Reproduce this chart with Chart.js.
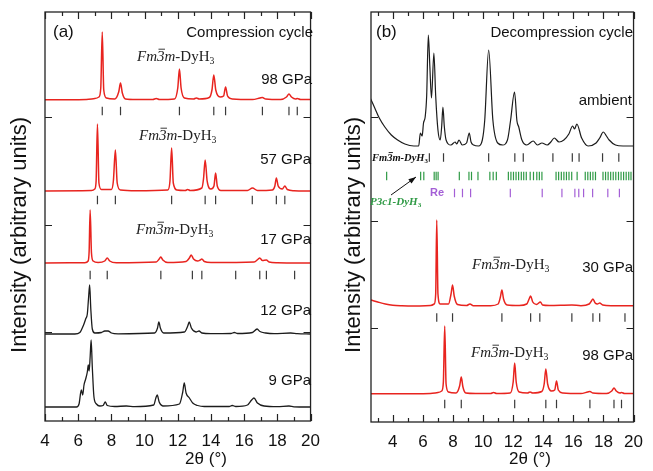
<!DOCTYPE html>
<html>
<head>
<meta charset="utf-8">
<script src="https://cdn.jsdelivr.net/npm/chart.js@4.4.1/dist/chart.umd.min.js"></script>
<style>
  html, body { margin: 0; padding: 0; background: #fff; }
  #wrap { position: relative; width: 653px; height: 471px; }
  #ca { position: absolute; left: 0; top: 0; }
  #cb { position: absolute; left: 330px; top: 0; }
</style>
</head>
<body>
<div id="wrap">
  <canvas id="ca" width="330" height="471"></canvas>
  <canvas id="cb" width="323" height="471"></canvas>
</div>
<script>
// ---- data: [2theta, intensity above the pattern's own baseline] ----
var p98 = [[2.55,0.3],[4,0.3],[6.5,0.6],[7.0,1.5],[7.25,3],[7.36,12],[7.45,68],[7.54,10],[7.7,2],[8.2,1],[8.44,8],[8.55,17],[8.66,7],[8.85,1],[9.5,0.5],[10.5,0.5],[10.7,1.5],[10.9,0.5],[11.8,1],[12.0,12],[12.1,31],[12.2,12],[12.4,2],[12.95,1],[13.12,2],[13.3,1],[13.9,2.5],[14.06,10],[14.17,25],[14.29,10],[14.55,3],[14.76,4],[14.88,13],[15.0,4],[15.3,1],[16.5,0.5],[16.95,2],[17.1,2.5],[17.3,1],[18.2,0.5],[18.55,3],[18.7,6],[18.85,3],[19.1,1],[19.2,1.5],[19.4,0.5],[20,0.5]];
var p57 = [[4,0],[6.8,0.5],[7.0,2],[7.08,10],[7.16,67],[7.25,8],[7.4,1.5],[8.0,1.5],[8.12,10],[8.24,41],[8.35,8],[8.55,1],[9.5,0.3],[11.4,1],[11.53,10],[11.63,43],[11.73,8],[11.95,1],[12.45,0.5],[12.6,1.5],[12.75,0.5],[13.45,3],[13.55,12],[13.65,31],[13.77,10],[14.0,2],[14.18,5],[14.28,18],[14.38,5],[14.6,0.5],[16.2,0.5],[16.5,3],[16.8,0.5],[17.7,1],[17.85,5],[17.94,13],[18.05,5],[18.3,2],[18.45,5],[18.6,1.5],[19,0.3],[20,0]];
var p17 = [[4,0],[6.4,0.3],[6.6,2],[6.66,12],[6.72,53],[6.8,10],[6.9,2],[7.2,0.5],[7.6,2],[7.75,5],[7.9,2],[8.3,0.3],[10.7,1],[10.88,4],[10.98,6],[11.1,3],[11.4,0.5],[12.5,1.5],[12.7,5],[12.81,8],[12.95,4],[13.2,2],[13.35,3],[13.45,4],[13.6,1.5],[14,0.5],[16.6,1],[16.85,4],[16.94,5],[17.1,2.5],[17.34,3],[17.5,1],[18,0.3],[20,0]];
var p12 = [[4,0],[5.8,0],[6.1,1.5],[6.3,8],[6.45,15],[6.55,20],[6.62,35],[6.69,49],[6.76,25],[6.85,5],[7.0,1],[7.4,1.5],[7.6,3],[7.8,3],[8.0,1],[8.4,0.2],[10.6,1],[10.78,6],[10.86,12],[10.95,6],[11.15,1],[12.4,2],[12.6,8],[12.69,12],[12.82,6],[13.1,2],[13.28,3],[13.45,1],[14,0.3],[15.2,0.5],[15.41,1.5],[15.6,0.5],[16.5,1.5],[16.78,5],[16.95,2.5],[17.3,1],[17.8,0.3],[18.8,1],[19.2,0.3],[20,0]];
var p9 = [[4,0],[5.9,0],[6.05,3],[6.19,17],[6.27,12],[6.35,22],[6.45,28],[6.55,35],[6.61,42],[6.66,36],[6.72,50],[6.78,67],[6.85,40],[6.95,10],[7.1,3],[7.3,1],[7.5,1.5],[7.63,5],[7.75,1.5],[8.2,0.5],[8.9,1],[9.4,0.3],[10.55,2],[10.68,9],[10.76,12],[10.88,5],[11.1,1],[12.1,3],[12.3,15],[12.39,24],[12.5,14],[12.7,9],[12.9,4],[13.2,1.5],[13.6,0.5],[15.1,0.5],[15.28,1.5],[15.5,0.5],[16.2,2],[16.45,7],[16.59,9],[16.8,4],[17.2,1],[18,0.3],[18.7,1],[19,0.2],[20,0]];
var pAmbient = [[2.5,48],[2.8,38],[3.1,28],[3.47,19],[3.9,11],[4.32,6],[4.8,2],[5.4,0],[5.72,0],[5.83,13],[5.95,10],[6.04,23],[6.15,29],[6.25,50],[6.36,111],[6.46,80],[6.57,48],[6.73,93],[6.85,50],[7.0,16],[7.15,6],[7.25,20],[7.33,39],[7.42,20],[7.54,6],[7.86,1],[8.14,4],[8.25,2],[8.4,6],[8.61,1],[8.9,3],[9.08,13],[9.2,4],[9.37,1],[9.69,0],[9.95,6],[10.11,26],[10.37,96],[10.65,26],[10.97,3],[11.3,1],[11.62,6],[11.83,26],[12.09,54],[12.25,25],[12.37,19],[12.58,6],[12.9,1],[13.33,5],[13.61,1],[13.91,3],[14.26,1],[14.5,4],[14.73,8],[15.05,4],[15.37,6],[15.7,12],[15.95,20],[16.08,17],[16.23,22],[16.55,8],[16.98,0],[17.51,3],[17.75,8],[17.99,14],[18.2,10],[18.38,6],[18.8,1],[19.3,0],[20,0]];
var p30 = [[2.55,6],[3.0,4],[3.5,2],[4.0,0.7],[4.6,0.2],[5.5,0],[6.5,0.5],[6.75,2],[6.85,12],[6.92,86],[7.0,12],[7.15,2],[7.7,2],[7.87,12],[7.97,21],[8.08,10],[8.3,1.5],[8.9,0.5],[9.13,2],[9.35,0.3],[10.5,0.3],[11.0,2],[11.15,9],[11.25,16],[11.36,7],[11.6,1],[12.4,0.5],[12.9,2],[13.06,7],[13.16,10],[13.3,4],[13.55,1.5],[13.81,4],[13.95,1],[14.4,0.5],[15.9,1],[16.5,0.3],[17.05,2],[17.2,5],[17.3,7],[17.45,3],[17.6,2],[17.75,3],[17.95,1],[18.5,0.3],[20,0.3]];

// reflection positions (2theta)
var refl98 = [7.45, 8.55, 12.1, 14.17, 14.88, 17.1, 18.7, 19.2];
var refl57 = [7.16, 8.24, 11.63, 13.65, 14.28, 16.49, 17.94, 18.45];
var refl17 = [6.72, 7.75, 10.98, 12.88, 13.45, 15.49, 16.94, 17.34, 19.04];
var refl30 = [6.92, 7.97, 11.25, 13.16, 13.77, 15.9, 17.3, 17.75, 19.43];
var reflAmbFm = [6.43, 7.37, 10.37, 12.11, 12.67, 14.64, 15.93, 16.38, 17.94, 19.02];
var reflP3c1 = [3.59, 5.85, 6.06, 6.75, 6.88, 7.01, 8.42, 9.06, 9.23, 9.66, 10.45, 10.67, 10.88, 11.68, 11.85, 12.02, 12.19, 12.36, 12.54, 12.7, 12.87, 13.13, 13.35, 13.57, 13.74, 13.91, 14.85, 15.02, 15.2, 15.37, 15.54, 15.71, 15.89, 16.25, 16.79, 16.96, 17.13, 17.3, 17.47, 17.97, 18.14, 18.31, 18.48, 18.65, 18.82, 19.0, 19.17, 19.34, 19.51, 19.68, 19.83];
var reflRe = [8.1, 8.63, 9.17, 11.81, 13.93, 15.24, 16.1, 16.36, 16.68, 17.28, 18.29, 19.06];

var xTickLabels = [4, 6, 8, 10, 12, 14, 16, 18, 20];

// ---- layout (offsets in the arbitrary intensity units) ----
var offA = { p98: 321, p57: 230, p17: 158, p12: 87, p9: 14, r98: 310, r57: 221, r17: 146 };
var offB = { amb: 276, p30: 116, p98: 28, rFm: 264.5, rP: 246, rRe: 229, r30: 104.5, r98: 18 };
var yTicksA = [89, 196, 304];
var yTicksB = [94, 201, 305];

var RED = '#e8241f', BLACK = '#1c1c1c', GREY = '#3a3a3a', GREEN = '#2f9a45', PURPLE = '#a45fd6';
var SANS = "'Liberation Sans', Arial, sans-serif";
var SERIF = "'Liberation Serif', 'Times New Roman', serif";
Chart.defaults.font.family = SANS;

function trace(points, base, color, width) {
  return {
    data: points.map(function (p) { return { x: p[0], y: base + p[1] }; }),
    showLine: true, borderColor: color, borderWidth: width, pointRadius: 0,
    cubicInterpolationMode: 'monotone', fill: false
  };
}
function refl(xs, row, color) {
  return {
    data: xs.map(function (x) { return { x: x, y: row }; }),
    showLine: false, pointStyle: 'line', pointRadius: 4.2, pointRotation: 90,
    pointBorderColor: color, pointBackgroundColor: color, pointBorderWidth: 1.2
  };
}

// phase label like Fm-3m-DyH3 (segments drawn one after another)
function drawPhase(ctx, segs, x, y, size, bold, color) {
  ctx.fillStyle = color; ctx.strokeStyle = color;
  ctx.textBaseline = 'middle'; ctx.textAlign = 'left';
  segs.forEach(function (s) {
    var sz = s.sub ? size * 0.65 : size;
    ctx.font = (s.it ? 'italic ' : '') + (bold ? 'bold ' : '') + sz + 'px ' + SERIF;
    var yy = s.sub ? y + size * 0.28 : y;
    ctx.fillText(s.t, x, yy);
    var w = ctx.measureText(s.t).width;
    if (s.bar) {
      ctx.lineWidth = 0.9;
      ctx.beginPath();
      ctx.moveTo(x + 1.5, y - size * 0.52); ctx.lineTo(x + w + 0.5, y - size * 0.52);
      ctx.stroke();
    }
    x += w;
  });
}
var FM = [{ t: 'Fm', it: true }, { t: '3', it: true, bar: true }, { t: 'm', it: true }, { t: '-DyH' }, { t: '3', sub: true }];
var FMB = [{ t: 'Fm', it: true }, { t: '3', it: true, bar: true }, { t: 'm', it: true }, { t: '-DyH', it: true }, { t: '3', sub: true }];
var P3 = [{ t: 'P3c1-DyH', it: true }, { t: '3', sub: true }];

function decor(cfg) {
  return {
    id: 'decor',
    afterDraw: function (chart) {
      var ctx = chart.ctx, a = chart.chartArea, xs = chart.scales.x, ys = chart.scales.y;
      ctx.save();
      ctx.strokeStyle = '#222'; ctx.lineWidth = 1.3;
      ctx.strokeRect(a.left, a.top, a.right - a.left, a.bottom - a.top);
      ctx.lineWidth = 1.2;
      ctx.beginPath();
      for (var v = Math.ceil(xs.min); v <= xs.max; v++) {
        var px = Math.round(xs.getPixelForValue(v)) + 0.5;
        var len = v % 2 === 0 ? 7 : 4;
        ctx.moveTo(px, a.bottom); ctx.lineTo(px, a.bottom - len);
        ctx.moveTo(px, a.top); ctx.lineTo(px, a.top + len);
      }
      cfg.yTicks.forEach(function (t) {
        var py = Math.round(ys.getPixelForValue(t)) + 0.5;
        ctx.moveTo(a.left, py); ctx.lineTo(a.left + 7, py);
        ctx.moveTo(a.right, py); ctx.lineTo(a.right - 7, py);
      });
      ctx.stroke();

      // axis titles
      ctx.fillStyle = '#111';
      ctx.font = '17px ' + SANS;
      ctx.textAlign = 'center'; ctx.textBaseline = 'middle';
      ctx.fillText('2\u03b8 (\u00b0)', cfg.xTitle[0], cfg.xTitle[1]);
      ctx.save();
      ctx.translate(cfg.yTitle[0], cfg.yTitle[1]);
      ctx.rotate(-Math.PI / 2);
      ctx.font = '22px ' + SANS;
      ctx.fillText('Intensity (arbitrary units)', 0, 0);
      ctx.restore();

      cfg.texts.forEach(function (t) {
        ctx.fillStyle = t.color || '#111';
        ctx.font = (t.bold ? 'bold ' : '') + t.size + 'px ' + SANS;
        ctx.textAlign = t.align; ctx.textBaseline = 'middle';
        ctx.fillText(t.t, t.x, t.y);
      });
      cfg.phases.forEach(function (p) {
        drawPhase(ctx, p.segs, p.x, p.y, p.size, p.bold, p.color || '#222');
      });
      if (cfg.arrow) {
        var ar = cfg.arrow;
        ctx.strokeStyle = '#111'; ctx.fillStyle = '#111'; ctx.lineWidth = 1;
        ctx.beginPath(); ctx.moveTo(ar[0], ar[1]); ctx.lineTo(ar[2], ar[3]); ctx.stroke();
        var ang = Math.atan2(ar[3] - ar[1], ar[2] - ar[0]);
        ctx.beginPath();
        ctx.moveTo(ar[2], ar[3]);
        ctx.lineTo(ar[2] - 8 * Math.cos(ang - 0.35), ar[3] - 8 * Math.sin(ang - 0.35));
        ctx.lineTo(ar[2] - 8 * Math.cos(ang + 0.35), ar[3] - 8 * Math.sin(ang + 0.35));
        ctx.closePath(); ctx.fill();
      }
      ctx.restore();
    }
  };
}

function xScale(min, h) {
  return {
    type: 'linear', min: min, max: 20,
    grid: { display: false, drawTicks: false }, border: { display: false },
    ticks: { font: { size: 17 }, color: '#111', padding: 10 },
    afterBuildTicks: function (s) { s.ticks = xTickLabels.map(function (v) { return { value: v }; }); },
    afterFit: function (s) { s.height = h; }
  };
}

new Chart(document.getElementById('ca'), {
  type: 'scatter',
  data: {
    datasets: [
      trace(p98, offA.p98, RED, 1.5),
      trace(p57, offA.p57, RED, 1.5),
      trace(p17, offA.p17, RED, 1.5),
      trace(p12, offA.p12, BLACK, 1.3),
      trace(p9, offA.p9, BLACK, 1.3),
      refl(refl98, offA.r98, GREY),
      refl(refl57, offA.r57, GREY),
      refl(refl17, offA.r17, GREY)
    ]
  },
  options: {
    responsive: false, animation: false, devicePixelRatio: 1,
    layout: { padding: { left: 45, right: 13, top: 12, bottom: 0 } },
    plugins: { legend: { display: false }, tooltip: { enabled: false } },
    scales: { x: xScale(4, 50), y: { display: false, min: 0, max: 409 } }
  },
  plugins: [decor({
    yTicks: yTicksA, xTitle: [206, 459], yTitle: [20, 235],
    texts: [
      { t: '(a)', x: 53, y: 32, size: 17, align: 'left' },
      { t: 'Compression cycle', x: 313, y: 33, size: 15, align: 'right' },
      { t: '98 GPa', x: 312, y: 80, size: 15, align: 'right' },
      { t: '57 GPa', x: 311, y: 160, size: 15, align: 'right' },
      { t: '17 GPa', x: 311, y: 240, size: 15, align: 'right' },
      { t: '12 GPa', x: 311, y: 311, size: 15, align: 'right' },
      { t: '9 GPa', x: 311, y: 381, size: 15, align: 'right' }
    ],
    phases: [
      { segs: FM, x: 137, y: 57, size: 15 },
      { segs: FM, x: 139, y: 136, size: 15 },
      { segs: FM, x: 136, y: 230, size: 15 }
    ]
  })]
});

new Chart(document.getElementById('cb'), {
  type: 'scatter',
  data: {
    datasets: [
      trace(pAmbient, offB.amb, BLACK, 1.2),
      trace(p30, offB.p30, RED, 1.5),
      trace(p98, offB.p98, RED, 1.5),
      refl(reflAmbFm, offB.rFm, GREY),
      refl(reflP3c1, offB.rP, GREEN),
      refl(reflRe, offB.rRe, PURPLE),
      refl(refl30, offB.r30, GREY),
      refl(refl98, offB.r98, GREY)
    ]
  },
  options: {
    responsive: false, animation: false, devicePixelRatio: 1,
    layout: { padding: { left: 41, right: 11, top: 12, bottom: 0 } },
    plugins: { legend: { display: false }, tooltip: { enabled: false } },
    scales: { x: xScale(2.55, 49), y: { display: false, min: 0, max: 410 } }
  },
  plugins: [decor({
    yTicks: yTicksB, xTitle: [200, 459], yTitle: [24, 235],
    texts: [
      { t: '(b)', x: 46, y: 32, size: 17, align: 'left' },
      { t: 'Decompression cycle', x: 303, y: 33, size: 15, align: 'right' },
      { t: 'ambient', x: 302, y: 101, size: 15, align: 'right' },
      { t: '30 GPa', x: 303, y: 268, size: 15, align: 'right' },
      { t: '98 GPa', x: 303, y: 356, size: 15, align: 'right' },
      { t: 'Re', x: 100, y: 193, size: 11, align: 'left', bold: true, color: PURPLE }
    ],
    phases: [
      { segs: FMB, x: 42, y: 158, size: 10.5, bold: true, color: '#111' },
      { segs: P3, x: 40, y: 202, size: 11, bold: true, color: GREEN },
      { segs: FM, x: 142, y: 265, size: 15 },
      { segs: FM, x: 141, y: 353, size: 15 }
    ],
    arrow: [61, 195, 86, 177]
  })]
});
</script>
</body>
</html>
